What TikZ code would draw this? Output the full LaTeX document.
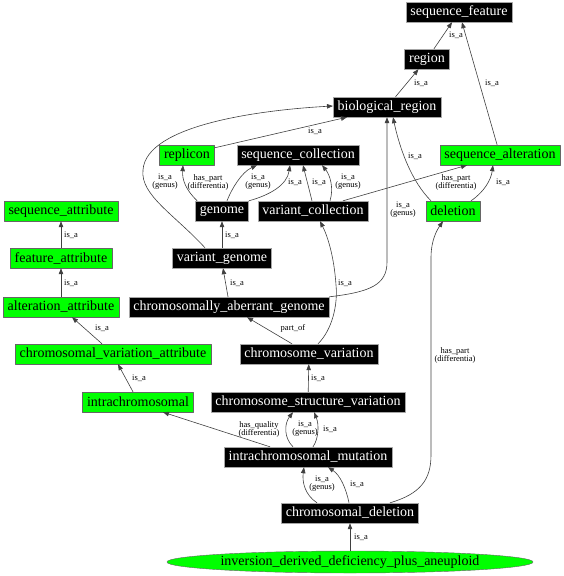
\documentclass[tikz,border=0pt]{standalone}
\usepackage{fontspec}
\setmainfont{Liberation Serif}
\usepackage{xcolor}
\usepackage{tikz}
\usetikzlibrary{arrows.meta,shapes.geometric}
\newcommand{\boxfont}{\fontsize{14}{16}\selectfont}
\newcommand{\labfont}{\fontsize{8.5}{8}\selectfont}

\begin{document}
\begin{tikzpicture}[x=1pt, y=-1pt, line join=round,
  blk/.style={fill=black, draw=black!35, text=white, font=\boxfont, minimum height=20pt, inner xsep=4.5pt, inner ysep=0pt},
  grn/.style={fill=green, draw=black!60, text=black, font=\boxfont, minimum height=20pt, inner xsep=4.5pt, inner ysep=0pt},
  ell/.style={ellipse, fill=green, draw=black!60, font=\boxfont, minimum width=366pt, minimum height=22pt, inner sep=0pt},
  rel/.style={draw=black!75, line width=0.6pt, -{Triangle[length=6pt,width=4.5pt]}},
  elab/.style={font=\labfont, align=center, inner sep=0.5pt}]
\useasboundingbox (0,0) rectangle (564,576);
% Top of the hierarchy
\node[blk] (seqfeature) at (459,12) {sequence\_feature};
\node[blk] (region) at (427,59) {region};
\node[blk] (bioregion) at (387,107) {biological\_region};
% Second row
\node[grn] (replicon) at (187,155) {replicon};
\node[blk] (seqcoll) at (298,155) {sequence\_collection};
\node[grn] (seqalt) at (500,155) {sequence\_alteration};
\node[blk] (genome) at (222,211) {genome};
\node[blk] (varcoll) at (313,211) {variant\_collection};
\node[grn] (deletion) at (453,211) {deletion};
% Attribute chain (left)
\node[grn] (seqattr) at (61,211) {sequence\_attribute};
\node[grn] (featattr) at (61,258) {feature\_attribute};
\node[grn] (altattr) at (61,307) {alteration\_attribute};
\node[grn] (chrvarattr) at (113,354) {chromosomal\_variation\_attribute};
\node[grn] (intrachr) at (138,402) {intrachromosomal};
% Genome / variation chain
\node[blk] (vargenome) at (222,258) {variant\_genome};
\node[blk] (cag) at (229,307) {chromosomally\_aberrant\_genome};
\node[blk] (chrvar) at (309,354) {chromosome\_variation};
\node[blk] (csv) at (308,402) {chromosome\_structure\_variation};
\node[blk] (icm) at (308,457) {intrachromosomal\_mutation};
\node[blk] (chrdel) at (350,513) {chromosomal\_deletion};
\node[ell] (idd) at (350,562) {inversion\_derived\_deficiency\_plus\_aneuploid};
% Edges (top)
\draw[rel] (region) -- (seqfeature);
\draw[rel] (seqalt) -- (seqfeature);
\draw[rel] (bioregion) -- (region);
\draw[rel] ([yshift=-3pt]replicon.north east) -- ([xshift=-40pt]bioregion.south);
\draw[rel] ([xshift=-17pt]vargenome.north) .. controls (175,215) and (140,195) .. (143,170) .. controls (146,125) and (260,110) .. ([yshift=1pt]bioregion.west);
\draw[rel] ([xshift=-22pt]deletion.north) .. controls (412,182) and (400,150) .. ([xshift=6pt]bioregion.south);
\draw[rel] (cag.north east) .. controls (370,292) and (387,285) .. (387,262) -- (bioregion.south);
% Edges into sequence_collection, replicon, sequence_alteration
\draw[rel] ([xshift=2pt]genome.north west) .. controls (186,190) and (182,180) .. ([xshift=-4pt]replicon.south);
\draw[rel] ([xshift=5pt]genome.north) .. controls (232,188) and (242,172) .. ([xshift=-41pt]seqcoll.south);
\draw[rel] (genome.north east) .. controls (270,195) and (287,185) .. ([xshift=-8pt]seqcoll.south);
\draw[rel] ([xshift=-1pt]varcoll.north) -- ([xshift=5pt]seqcoll.south);
\draw[rel] ([xshift=17pt]varcoll.north) .. controls (334,188) and (330,175) .. ([xshift=24pt]seqcoll.south);
\draw[rel] ([xshift=30pt]varcoll.north) -- ([xshift=-33pt]seqalt.south);
\draw[rel] ([xshift=18pt]deletion.north) .. controls (484,192) and (491,180) .. ([xshift=-7pt]seqalt.south);
% Edges (middle)
\draw[rel] (vargenome) -- (genome);
\draw[rel] ([xshift=-1pt]cag.north) -- ([xshift=1pt]vargenome.south);
\draw[rel] ([xshift=9pt]chrvar.north) .. controls (332,330) and (338,305) .. (336,285) .. controls (334,255) and (327,235) .. ([xshift=7pt]varcoll.south);
\draw[rel] ([xshift=-17pt]chrvar.north) -- ([xshift=18pt]cag.south);
\draw[rel] (csv) -- (chrvar);
\draw[rel] (featattr) -- (seqattr);
\draw[rel] (altattr) -- (featattr);
\draw[rel] ([xshift=-11pt]chrvarattr.north) -- ([xshift=11pt]altattr.south);
\draw[rel] ([xshift=-5pt]intrachr.north) -- ([xshift=5pt]chrvarattr.south);
% Edges (bottom)
\draw[rel] ([xshift=-38pt]icm.north) -- ([xshift=25pt]intrachr.south);
\draw[rel] ([xshift=-15pt]icm.north) .. controls (284,438) and (284,424) .. ([xshift=-15pt]csv.south);
\draw[rel] ([xshift=5pt]icm.north) .. controls (319,438) and (319,424) .. ([xshift=6pt]csv.south);
\draw[rel] ([xshift=-33pt]chrdel.north) .. controls (305,495) and (302,482) .. ([xshift=-4pt]icm.south);
\draw[rel] ([xshift=-1pt]chrdel.north) .. controls (346,488) and (340,475) .. ([xshift=20pt]icm.south);
\draw[rel] ([xshift=40pt]chrdel.north) .. controls (420,494) and (431,480) .. (431,455) -- (431,258) .. controls (431,240) and (437,230) .. ([xshift=-10pt]deletion.south);
\draw[rel] (idd) -- (chrdel);
% Edge labels
\node[elab] (la1) at (456,35) {is\_a};
\node[elab] (la2) at (492,83) {is\_a};
\node[elab] (la3) at (421,83) {is\_a};
\node[elab] (la4) at (315,131) {is\_a};
\node[elab] (la5) at (165,182) {is\_a\\(genus)};
\node[elab] (la6) at (208,182) {has\_part\\(differentia)};
\node[elab] (la7) at (258,182) {is\_a\\(genus)};
\node[elab] (la8) at (295,182) {is\_a};
\node[elab] (la9) at (319,182) {is\_a};
\node[elab] (la10) at (348,182) {is\_a\\(genus)};
\node[elab] (la11) at (456,182) {has\_part\\(differentia)};
\node[elab] (la12) at (503,182) {is\_a};
\node[elab] (la13) at (415,156) {is\_a};
\node[elab] (la14) at (403,210) {is\_a\\(genus)};
\node[elab] (la15) at (232,235) {is\_a};
\node[elab] (la16) at (237,283) {is\_a};
\node[elab] (la17) at (345,283) {is\_a};
\node[elab] (la18) at (293,328) {part\_of};
\node[elab] (la19) at (318,378) {is\_a};
\node[elab] (la20) at (139,378) {is\_a};
\node[elab] (la21) at (102,328) {is\_a};
\node[elab] (la22) at (71,283) {is\_a};
\node[elab] (la23) at (71,235) {is\_a};
\node[elab] (la24) at (259,429) {has\_quality\\(differentia)};
\node[elab] (la25) at (305,429) {is\_a\\(genus)};
\node[elab] (la26) at (330,429) {is\_a};
\node[elab] (la27) at (322,484) {is\_a\\(genus)};
\node[elab] (la28) at (357,484) {is\_a};
\node[elab] (la29) at (455,355) {has\_part\\(differentia)};
\node[elab] (la30) at (361,537) {is\_a};
\end{tikzpicture}
\end{document}
